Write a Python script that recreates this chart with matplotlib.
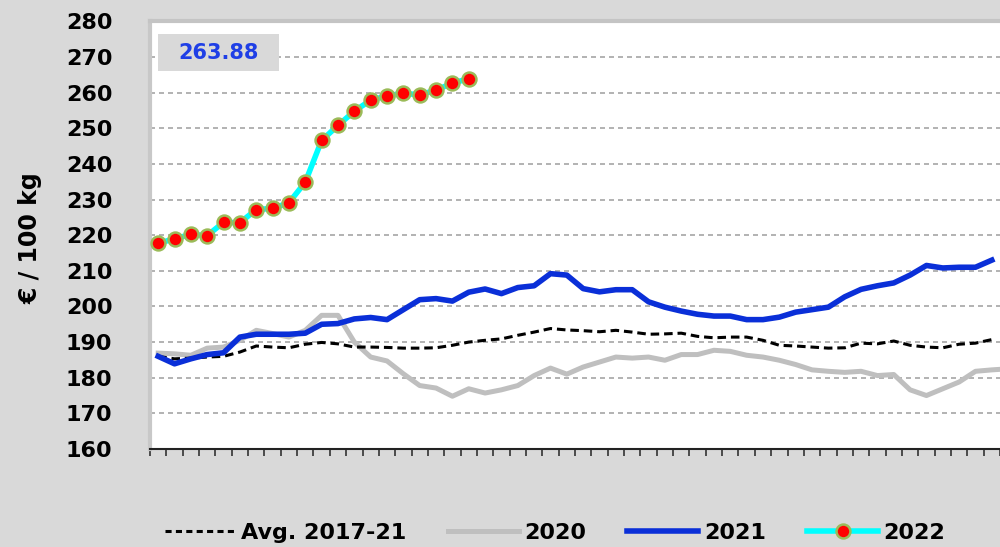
import matplotlib
matplotlib.use("Agg")
import matplotlib.pyplot as plt
from matplotlib.patches import Rectangle
from matplotlib.lines import Line2D
import numpy as np

# ---- data (weekly prices, EUR / 100 kg) ----
avg_2017_21 = [186.0, 185.3, 185.5, 185.8, 186.0, 187.2, 188.9, 188.6, 188.4, 189.4,
               189.9, 189.5, 188.6, 188.6, 188.5, 188.3, 188.3, 188.4, 189.1, 190.0,
               190.5, 190.9, 191.9, 192.8, 193.8, 193.4, 193.2, 192.9, 193.3, 192.8,
               192.2, 192.3, 192.5, 191.6, 191.2, 191.4, 191.4, 190.5, 189.1, 188.9,
               188.6, 188.3, 188.4, 189.7, 189.5, 190.3, 189.1, 188.6, 188.4, 189.4,
               189.7, 190.7]
y2020 = [186.9, 186.7, 186.3, 188.3, 188.6, 190.5, 193.3, 192.4, 191.4, 193.3,
         197.5, 197.5, 190.0, 185.8, 184.7, 181.1, 177.8, 177.1, 174.8, 176.9,
         175.7, 176.6, 177.8, 180.6, 182.7, 181.0, 183.0, 184.4, 185.8, 185.5,
         185.8, 184.9, 186.5, 186.5, 187.7, 187.4, 186.3, 185.8, 184.9, 183.7,
         182.2, 181.8, 181.5, 181.8, 180.6, 180.9, 176.6, 175.0, 176.9, 178.8,
         181.8, 182.2, 182.5]
y2021 = [186.0, 183.9, 185.3, 186.5, 187.0, 191.4, 192.2, 192.2, 192.2, 192.5,
         195.0, 195.2, 196.5, 196.9, 196.3, 199.1, 201.9, 202.2, 201.5, 204.0,
         204.9, 203.6, 205.3, 205.8, 209.2, 208.8, 205.0, 204.1, 204.7, 204.7,
         201.3, 199.8, 198.7, 197.8, 197.3, 197.3, 196.3, 196.3, 197.0, 198.4,
         199.1, 199.8, 202.7, 204.8, 205.8, 206.6, 208.8, 211.5, 210.8, 211.0,
         211.0, 213.0]
y2022 = [217.7, 219.0, 220.2, 219.9, 223.6, 223.5, 227.2, 227.5, 229.1, 234.9,
         246.6, 250.8, 254.8, 257.9, 259.1, 259.8, 259.4, 260.7, 262.7, 263.88]
series_labels = ["Avg. 2017-21", "2020", "2021", "2022"]
y_ticks = [160, 170, 180, 190, 200, 210, 220, 230, 240, 250, 260, 270, 280]
n_weeks = 52

BG = "#d9d9d9"
FONT = "DejaVu Sans"

fig = plt.figure(figsize=(10, 5.47), dpi=100, facecolor=BG)
ax = fig.add_axes([0.15, 0.1792, 0.85, 0.7817])
ax.set_facecolor("white")

def xs(vals):
    return np.arange(len(vals)) + 0.5

ax.plot(xs(y2020), y2020, color="#bfbfbf", lw=3.6, zorder=2, solid_joinstyle="round")
ax.plot(xs(avg_2017_21), avg_2017_21, color="black", lw=2.2,
        linestyle=(0, (2.8, 1.6)), zorder=3)
ax.plot(xs(y2021), y2021, color="#0a2fd8", lw=4.0, zorder=4, solid_joinstyle="round")
ax.plot(xs(y2022), y2022, color="#00ffff", lw=4.0, zorder=5,
        marker="o", markersize=10, markerfacecolor="#ff0000",
        markeredgecolor="#9bbb59", markeredgewidth=1.8)

ax.set_xlim(0, n_weeks)
ax.set_ylim(160, 280)
ax.set_xticks(np.arange(0, n_weeks + 1))
ax.set_xticklabels([])
ax.tick_params(axis="x", direction="out", length=5, width=1.2, color="#333333")
ax.set_yticks(y_ticks)
ax.set_yticklabels([str(v) for v in y_ticks], fontfamily=FONT,
                   fontweight="bold", fontsize=16)
ax.tick_params(axis="y", length=0, pad=27)

for v in y_ticks[1:-1]:
    ax.axhline(v, color="#a6a6a6", lw=1.2, linestyle=(0, (3.0, 2.4)), zorder=1)

ax.spines["right"].set_visible(False)
ax.spines["top"].set_color("#c4c4c4")
ax.spines["top"].set_linewidth(3)
ax.spines["left"].set_color("#c8c8c8")
ax.spines["left"].set_linewidth(3)
ax.spines["bottom"].set_color("#222222")
ax.spines["bottom"].set_linewidth(1.5)

fig.text(0.031, 1 - 238 / 547, "€ / 100 kg", rotation=90, ha="center",
         va="center", fontfamily=FONT, fontweight="bold", fontsize=17)

# value box
ax.add_patch(Rectangle((0.0094, 0.884), 0.1424, 0.0865, transform=ax.transAxes,
                       facecolor=BG, edgecolor="none", zorder=6))
ax.text(0.0806, 0.927, f"{y2022[-1]:.2f}", transform=ax.transAxes,
        ha="center", va="center", fontfamily=FONT, fontweight="bold",
        fontsize=15, color="#1f3fe6", zorder=7)

handles = [
    Line2D([], [], color="black", lw=2.2, linestyle=(0, (2.0, 1.4))),
    Line2D([], [], color="#bfbfbf", lw=3.6),
    Line2D([], [], color="#0a2fd8", lw=4.0),
    Line2D([], [], color="#00ffff", lw=4.0, marker="o", markersize=10,
           markerfacecolor="#ff0000", markeredgecolor="#9bbb59",
           markeredgewidth=1.8),
]
leg = fig.legend(handles, series_labels, loc="center", ncol=4,
                 bbox_to_anchor=(0.555, 0.026), frameon=False,
                 prop={"family": FONT, "weight": "bold", "size": 16},
                 handlelength=3.2, handletextpad=0.25, columnspacing=1.85,
                 borderaxespad=0, borderpad=0)

fig.savefig("out.png", dpi=100, facecolor=BG)
